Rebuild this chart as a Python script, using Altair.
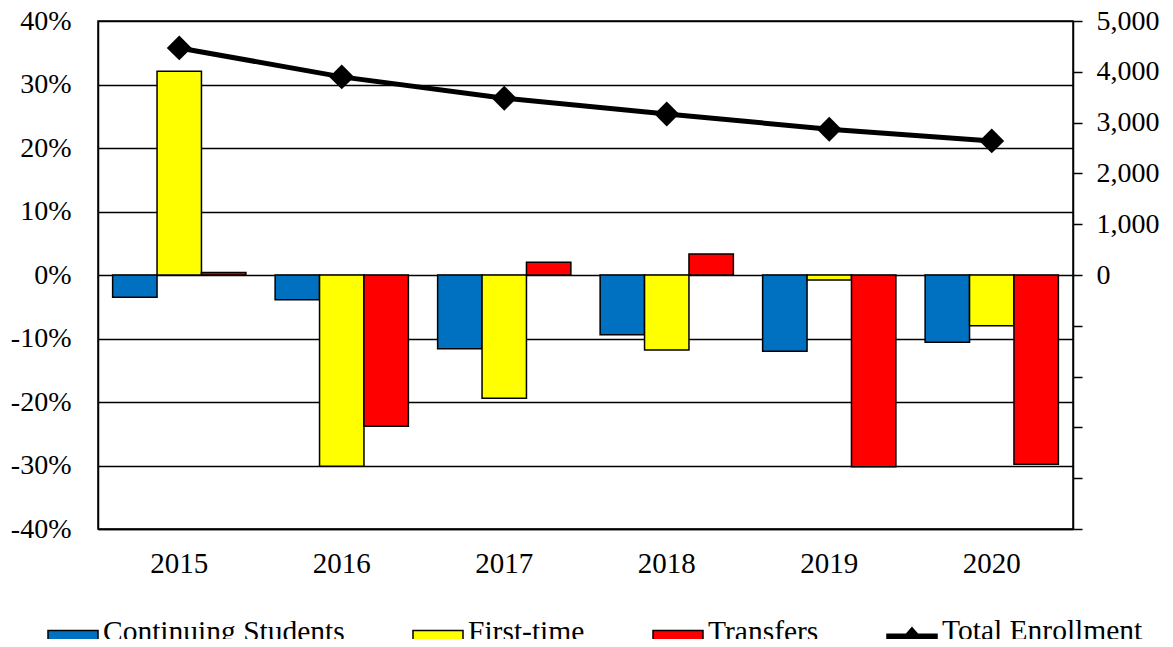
import altair as alt
import pandas as pd

years = ["2015", "2016", "2017", "2018", "2019", "2020"]
continuing = [-0.035, -0.039, -0.116, -0.094, -0.120, -0.106]
first_time = [0.321, -0.301, -0.194, -0.118, -0.008, -0.080]
transfers = [0.004, -0.238, 0.020, 0.033, -0.302, -0.298]
total_enrollment = [4470, 3900, 3480, 3170, 2870, 2640]

series_names = ["Continuing Students", "First-time", "Transfers", "Total Enrollment"]
series_colors = ["#0070C0", "#FFFF00", "#FF0000", "#000000"]
legend_shapes = [
    "M-1,-0.07H1V0.47H-1Z",
    "M-1,-0.07H1V0.47H-1Z",
    "M-1,-0.07H1V0.47H-1Z",
    "M-1,0.12H1V0.28H-1Z M0,-0.14L0.3,0.2L0,0.54L-0.3,0.2Z",
]

FONT = "Liberation Serif"
FS = 28

rows = []
for name, vals in zip(series_names[:3], [continuing, first_time, transfers]):
    for y, v in zip(years, vals):
        rows.append({"year": y, "series": name, "value": v})
bar_df = pd.DataFrame(rows)
line_df = pd.DataFrame({"year": years, "enrollment": total_enrollment,
                        "series": ["Total Enrollment"] * len(years)})

color_scale = alt.Scale(domain=series_names, range=series_colors)
x_enc = alt.X("year:N", sort=years,
              scale=alt.Scale(paddingInner=0.18, paddingOuter=0.09),
              axis=alt.Axis(title=None, labelAngle=0, ticks=False, labelPadding=20,
                            domainColor="black", domainWidth=1.5,
                            labelFont=FONT, labelFontSize=29, labelColor="black"))

bars = alt.Chart(bar_df).mark_bar(stroke="black", strokeWidth=1.5).encode(
    x=x_enc,
    xOffset=alt.XOffset("series:N", sort=series_names[:3],
                        scale=alt.Scale(domain=series_names[:3], paddingInner=0, paddingOuter=0)),
    y=alt.Y("value:Q", scale=alt.Scale(domain=[-0.4, 0.4], nice=False, zero=True),
            axis=alt.Axis(title=None, values=[-0.4, -0.3, -0.2, -0.1, 0, 0.1, 0.2, 0.3, 0.4],
                          labelExpr="(datum.value < 0 ? '-' : '') + format(abs(datum.value), '.0%')",
                          grid=True, gridColor="black", gridWidth=1.5,
                          ticks=False, labelPadding=27, domainColor="black", domainWidth=1.5,
                          labelFont=FONT, labelFontSize=FS, labelColor="black")),
    color=alt.Color("series:N", scale=color_scale, legend=alt.Legend(title=None)),
)

y_right = alt.Y("enrollment:Q", scale=alt.Scale(domain=[-5000, 5000], nice=False),
                axis=alt.Axis(title=None, orient="right",
                              values=list(range(-5000, 5001, 1000)),
                              labelExpr="datum.value >= 0 ? format(datum.value, ',') : ''",
                              grid=False, tickSize=9, tickColor="black", tickWidth=1.5,
                              labelPadding=14, domainColor="black", domainWidth=1.5,
                              labelFont=FONT, labelFontSize=FS, labelColor="black"))

line = alt.Chart(line_df).mark_line(color="black", strokeWidth=5).encode(
    x=alt.X("year:N", sort=years), y=y_right)
points = alt.Chart(line_df).mark_point(shape="diamond", filled=True, color="black",
                                       size=620, opacity=1).encode(
    x=alt.X("year:N", sort=years), y=y_right)
legend_layer = alt.Chart(line_df).transform_filter("datum.enrollment < 0").mark_point(
    filled=True, stroke="black", strokeWidth=1.5, opacity=1).encode(
    x=alt.X("year:N", sort=years), y=y_right,
    color=alt.Color("series:N", scale=color_scale, legend=alt.Legend(title=None)),
    shape=alt.Shape("series:N", scale=alt.Scale(domain=series_names, range=legend_shapes),
                    legend=alt.Legend(title=None)),
)

right = alt.layer(line, points, legend_layer)

chart = alt.layer(bars, right).resolve_scale(y="independent").properties(
    width=975, height=508,
    padding={"left": 90, "top": 13, "right": 90, "bottom": 110},
    autosize=alt.AutoSizeParams(type="none"),
).configure_view(stroke="black", strokeWidth=1.5).configure_legend(
    orient="none", legendX=-51, legendY=584, direction="horizontal", columns=4,
    columnPadding=65, labelFont=FONT, labelFontSize=29.5, labelColor="black",
    labelLimit=500, symbolSize=2500, labelOffset=4,
    symbolStrokeColor="black", symbolStrokeWidth=1.5,
)

chart.save("out.html", embed_options={"renderer": "svg", "actions": False})
